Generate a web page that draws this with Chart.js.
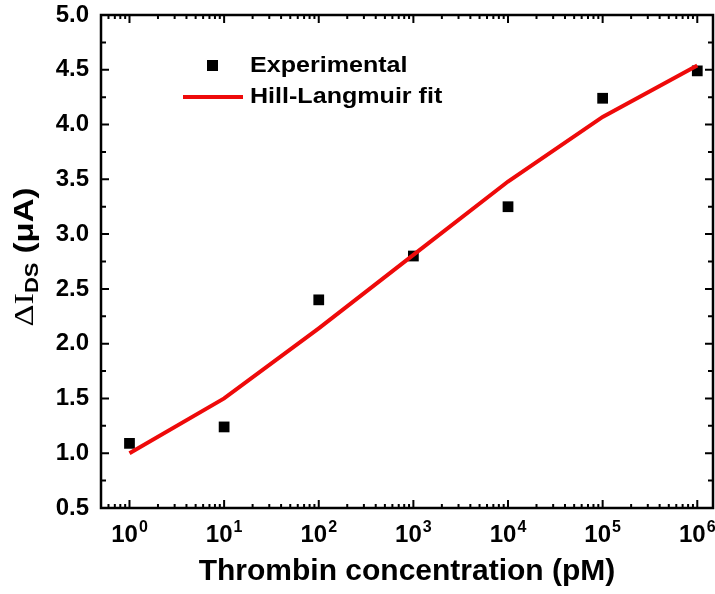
<!DOCTYPE html>
<html><head><meta charset="utf-8">
<script src="https://cdn.jsdelivr.net/npm/chart.js@4.4.1/dist/chart.umd.min.js"></script>
<style>html,body{margin:0;padding:0;background:#fff}</style>
</head><body>
<canvas id="c" width="715" height="594"></canvas>
<script>
const concentrations = [1, 10, 100, 1000, 10000, 100000, 1000000];
const experimental = [1.09, 1.24, 2.40, 2.80, 3.25, 4.24, 4.49];
const fitValues = [1.00, 1.50, 2.14, 2.81, 3.48, 4.07, 4.54];
const xTickExponents = [0, 1, 2, 3, 4, 5, 6];
const seriesNames = ['Experimental', 'Hill-Langmuir fit'];
const xTitle = 'Thrombin concentration (pM)';

const SANS = '"Liberation Sans", Arial, sans-serif';
const RED = '#ee0a0a';

const framePlugin = {
  id: 'frame',
  afterDraw(chart) {
    const ctx = chart.ctx;
    const a = chart.chartArea;
    const xs = chart.scales.x, ys = chart.scales.y;
    ctx.save();
    ctx.strokeStyle = '#000';
    ctx.lineWidth = 2.5;
    ctx.strokeRect(a.left, a.top, a.right - a.left, a.bottom - a.top);
    ctx.lineWidth = 2;
    ctx.beginPath();
    for (let d = -1; d <= 6; d++) {
      for (let k = 1; k <= 9; k++) {
        const v = k * Math.pow(10, d);
        if (v <= xs.min || v >= xs.max) continue;
        const px = xs.getPixelForValue(v);
        const len = k === 1 ? 8 : 4;
        ctx.moveTo(px, a.bottom); ctx.lineTo(px, a.bottom - len);
        ctx.moveTo(px, a.top); ctx.lineTo(px, a.top + len);
      }
    }
    for (let i = 0; i <= 18; i++) {
      const v = 0.5 + i * 0.25;
      if (v <= ys.min || v >= ys.max) continue;
      const py = ys.getPixelForValue(v);
      const len = (i % 2 === 0) ? 8 : 5;
      ctx.moveTo(a.left, py); ctx.lineTo(a.left + len, py);
      ctx.moveTo(a.right, py); ctx.lineTo(a.right - len, py);
    }
    ctx.stroke();

    // x tick labels with superscripts
    ctx.fillStyle = '#000';
    ctx.textBaseline = 'alphabetic';
    ctx.textAlign = 'left';
    const fBase = 'bold 24px ' + SANS, fSup = 'bold 16px ' + SANS;
    xTickExponents.forEach(e => {
      const px = xs.getPixelForValue(Math.pow(10, e));
      ctx.font = fBase; const w1 = ctx.measureText('10').width;
      ctx.font = fSup; const w2 = ctx.measureText(String(e)).width;
      const x0 = px - (w1 + w2 + 1) / 2;
      ctx.font = fBase; ctx.fillText('10', x0, 542);
      ctx.font = fSup; ctx.fillText(String(e), x0 + w1 + 1, 532);
    });

    // y title: ΔI_DS (μA), slightly stretched along its reading direction
    ctx.save();
    const cy = 257;
    ctx.translate(33, cy);
    ctx.rotate(-Math.PI / 2);
    ctx.scale(1.22, 1);
    const p1 = 'ΔI', p2 = 'DS', p3 = ' (μA)';
    const f1 = '28px "Liberation Serif", "Times New Roman", serif';
    const f2 = 'bold 18px ' + SANS;
    const f3 = 'bold 27px ' + SANS;
    ctx.font = f1; const w1 = ctx.measureText(p1).width;
    ctx.font = f2; const w2 = ctx.measureText(p2).width;
    ctx.font = f3; const w3 = ctx.measureText(p3).width;
    let x = -(w1 + w2 + w3) / 2;
    ctx.font = f1; ctx.fillText(p1, x, 0); x += w1;
    ctx.font = f2; ctx.fillText(p2, x, 5); x += w2;
    ctx.font = f3; ctx.fillText(p3, x, 0);
    ctx.restore();

    // legend
    ctx.fillStyle = '#000';
    ctx.fillRect(207, 60, 11, 11);
    ctx.strokeStyle = RED;
    ctx.lineWidth = 4;
    ctx.beginPath(); ctx.moveTo(183, 97); ctx.lineTo(243, 97); ctx.stroke();
    ctx.font = 'bold 22px ' + SANS;
    ctx.textBaseline = 'middle';
    [[chart.data.datasets[0].label, 66], [chart.data.datasets[1].label, 97]].forEach(([t, y]) => {
      ctx.save();
      ctx.translate(250, y);
      ctx.scale(1.14, 1);
      ctx.fillText(t, 0, 0);
      ctx.restore();
    });
    ctx.restore();
  }
};

new Chart(document.getElementById('c'), {
  type: 'scatter',
  data: {
    datasets: [
      {
        label: seriesNames[0],
        data: concentrations.map((c, i) => ({ x: c, y: experimental[i] })),
        pointStyle: 'rect',
        pointRadius: 7.6,
        backgroundColor: '#000',
        borderColor: '#000',
        borderWidth: 0,
        showLine: false,
        order: 2
      },
      {
        label: seriesNames[1],
        data: concentrations.map((c, i) => ({ x: c, y: fitValues[i] })),
        showLine: true,
        borderColor: RED,
        borderWidth: 4,
        pointRadius: 0,
        tension: 0,
        fill: false,
        order: 1
      }
    ]
  },
  options: {
    responsive: false,
    animation: false,
    layout: { autoPadding: false, padding: { top: 15, right: 2, left: 0, bottom: 0 } },
    plugins: { legend: { display: false }, tooltip: { enabled: false } },
    scales: {
      x: {
        type: 'logarithmic',
        min: 0.5,
        max: 1.466e6,
        grid: { display: false, drawTicks: false },
        border: { display: false },
        ticks: { display: false },
        title: {
          display: true,
          text: xTitle,
          color: '#000',
          font: { family: SANS, size: 30, weight: 'bold' },
          padding: { top: 0, bottom: 4 }
        },
        afterFit(s) { s.height = 86; s.paddingLeft = 0; s.paddingRight = 0; }
      },
      y: {
        min: 0.5,
        max: 5.0,
        grid: { display: false, drawTicks: false },
        border: { display: false },
        ticks: {
          stepSize: 0.5,
          color: '#000',
          padding: 12,
          font: { family: SANS, size: 24, weight: 'bold' },
          callback: v => Number(v).toFixed(1)
        },
        afterFit(s) { s.width = 101; s.paddingTop = 0; s.paddingBottom = 0; }
      }
    }
  },
  plugins: [framePlugin]
});
</script>
</body></html>
